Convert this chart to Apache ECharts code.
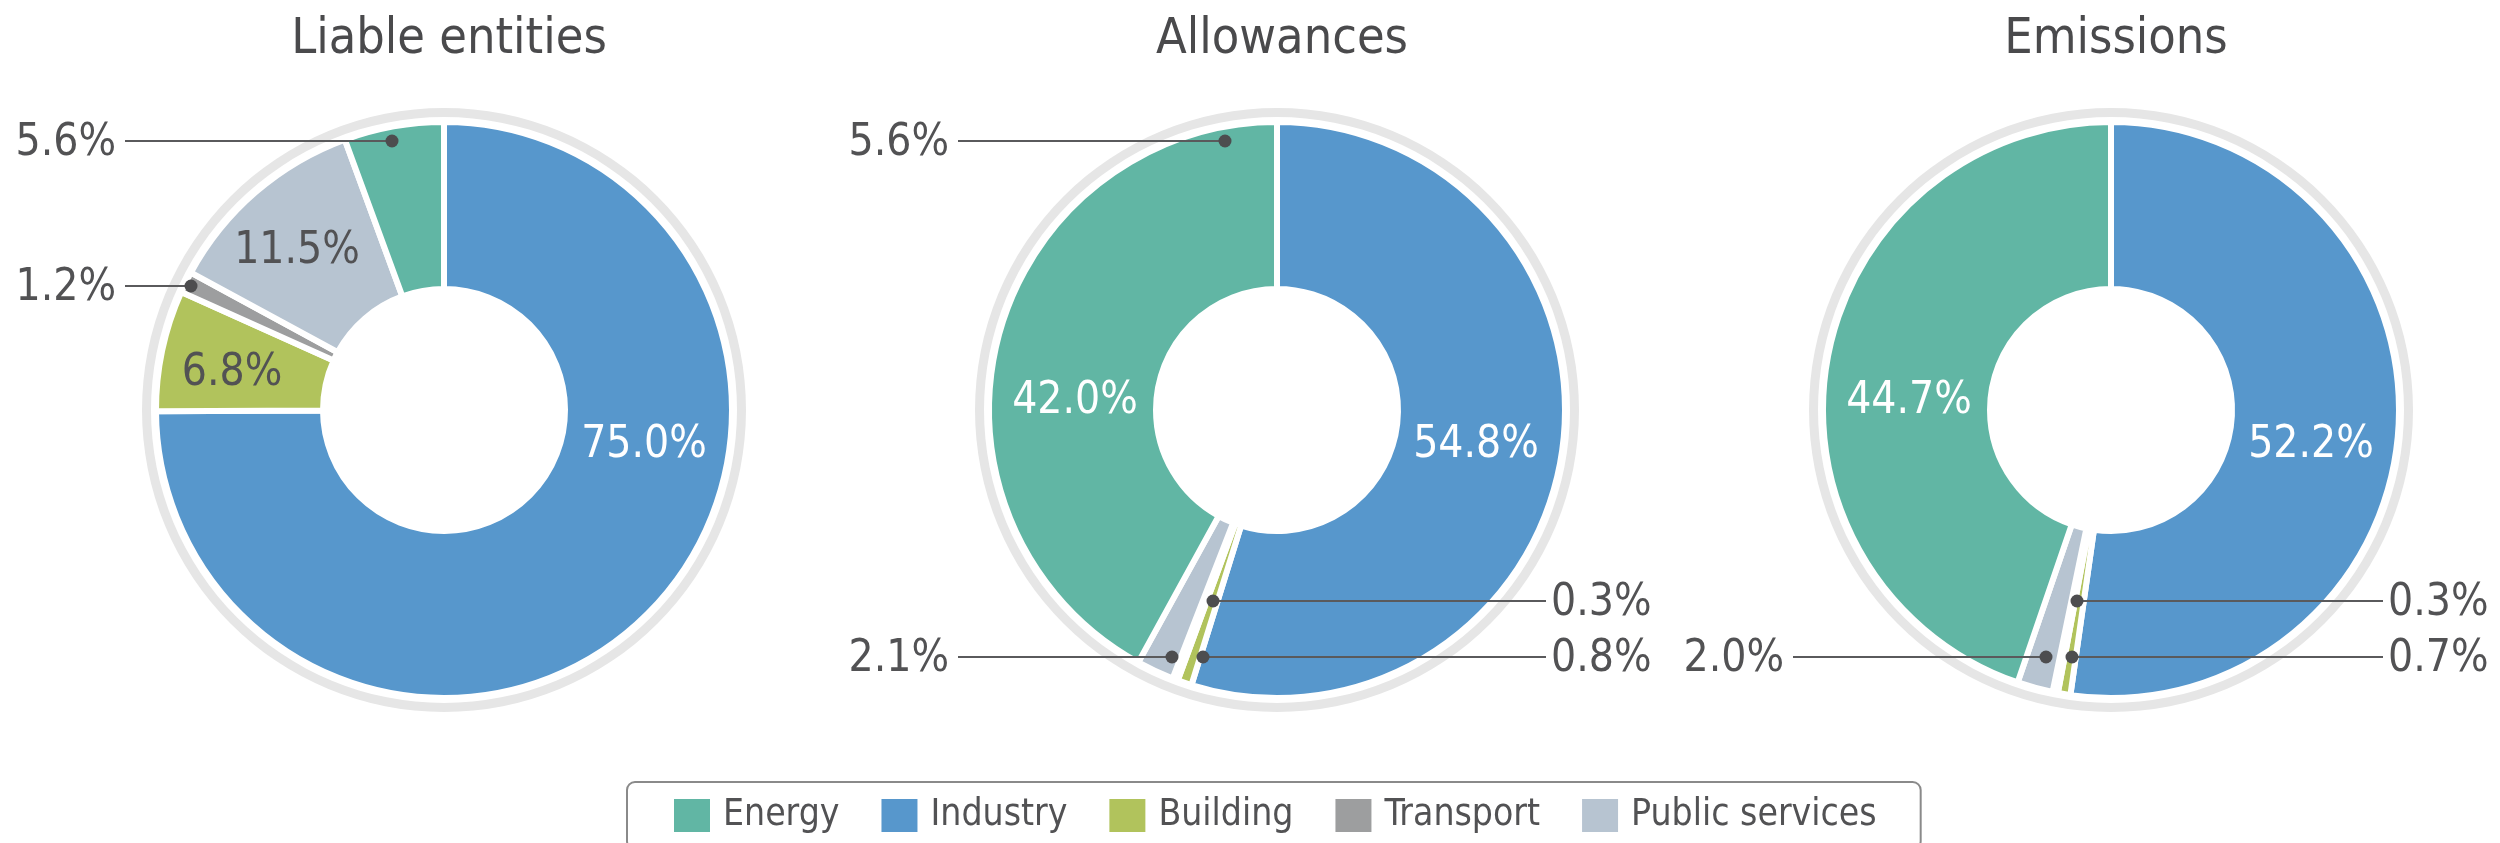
<!DOCTYPE html>
<html><head><meta charset="utf-8">
<script src="https://cdn.jsdelivr.net/npm/echarts@6/dist/echarts.min.js"></script>
<style>html,body{margin:0;padding:0;background:#fff}#c{width:2500px;height:843px}</style>
</head><body><div id="c"></div>
<script>
// ---------- data ----------
const categories = ['Energy', 'Industry', 'Building', 'Transport', 'Public services'];
const panelTitles = ['Liable entities', 'Allowances', 'Emissions'];
const liableEntities = [5.6, 75.0, 6.8, 1.2, 11.5];
const allowances = [42.0, 54.8, 0.8, 0.3, 2.1];
const emissions = [44.7, 52.2, 0.7, 0.3, 2.0];
const strayLabels = ['', '5.6%', ''];   // extra callout printed on the Allowances panel
const sliceOrder = ['Industry', 'Building', 'Transport', 'Public services', 'Energy']; // clockwise from 12 o'clock

// ---------- styles / layout ----------
const colors = { 'Energy': '#61b6a4', 'Industry': '#5797cc', 'Building': '#b1c35c', 'Transport': '#9d9e9f', 'Public services': '#b7c4d1' };
const FONT = "'DejaVu Sans Condensed','DejaVu Sans',sans-serif";
const TEXT = '#525254';
const LINE = '#5a5a5c';
const centers = [[444, 410], [1277, 410], [2111, 410]];
const R_MAIN = [121, 288], R_RING = [293, 302];
const layouts = [
  { 'Energy': { dot: [-52, -269], tx: -328 }, 'Transport': { dot: [-253, -124], tx: -328 },
    'Public services': { inside: [-147, -158], color: TEXT }, 'Building': { inside: [-212, -36], color: TEXT },
    'Industry': { inside: [200, 36], color: '#fff' } },
  { 'Energy': { inside: [-202, -8], color: '#fff' }, 'Industry': { inside: [199, 36], color: '#fff' },
    'Transport': { dot: [-64, 191], tx: 274 }, 'Building': { dot: [-74, 247], tx: 274 },
    'Public services': { dot: [-105, 247], tx: -328 } },
  { 'Energy': { inside: [-202, -8], color: '#fff' }, 'Industry': { inside: [200, 36], color: '#fff' },
    'Transport': { dot: [-34, 191], tx: 277 }, 'Building': { dot: [-39, 247], tx: 277 },
    'Public services': { dot: [-65, 247], tx: -327 } }
];
const strayLayout = { dot: [-52, -269], tx: -328 };
const panels = [liableEntities, allowances, emissions];

function lineGeom(i, L) {
  const [cx, cy] = centers[i];
  const dx = cx + L.dot[0], dy = cy + L.dot[1];
  const left = L.tx < 0;
  const tx = cx + L.tx;
  const lx = left ? tx + 9 : tx - 5;
  return { dx, dy, tx, lx, left };
}
function callout(g) {
  graphics.push({ type: 'line', z: 99, silent: true, shape: { x1: g.lx, y1: g.dy, x2: g.dx, y2: g.dy }, style: { stroke: LINE, lineWidth: 2 } });
  graphics.push({ type: 'circle', z: 100, silent: true, shape: { cx: g.dx, cy: g.dy, r: 6.5 }, style: { fill: '#4d4d4f' } });
}

const series = [];
const graphics = [];
panels.forEach((vals, i) => {
  series.push({
    type: 'pie', silent: true, center: centers[i], radius: R_RING, z: 1,
    data: [{ value: 1, name: '_ring', itemStyle: { color: '#e6e6e6' } }],
    label: { show: false }, labelLine: { show: false }
  });
  const data = sliceOrder.map(name => {
    const v = vals[categories.indexOf(name)];
    const L = layouts[i][name];
    const item = { name, value: v, itemStyle: { color: colors[name] } };
    if (L.inside) item.label = { color: L.color };
    return item;
  });
  series.push({
    type: 'pie', center: centers[i], radius: R_MAIN, startAngle: 90, clockwise: true, z: 2,
    avoidLabelOverlap: false, silent: true,
    itemStyle: { borderColor: '#fff', borderWidth: 6 },
    label: { show: true, position: 'outside', formatter: p => p.value.toFixed(1) + '%',
      fontFamily: FONT, fontSize: 44, color: TEXT },
    labelLine: { show: false },
    labelLayout: function (p) {
      const name = sliceOrder[p.dataIndex];
      const L = layouts[i][name];
      const [cx, cy] = centers[i];
      if (L.inside) return { x: cx + L.inside[0], y: cy + L.inside[1], align: 'center', verticalAlign: 'middle' };
      const g = lineGeom(i, L);
      return { x: g.tx, y: g.dy + 3, align: g.left ? 'right' : 'left', verticalAlign: 'middle' };
    },
    data
  });
  sliceOrder.forEach(name => {
    const L = layouts[i][name];
    if (L.dot) callout(lineGeom(i, L));
  });
  if (strayLabels[i]) {
    const g = lineGeom(i, strayLayout);
    callout(g);
    graphics.push({ type: 'text', z: 100, silent: true, x: g.tx, y: g.dy + 3,
      style: { text: strayLabels[i], align: 'right', verticalAlign: 'middle', font: '44px ' + FONT, fill: TEXT } });
  }
});

const chart = echarts.init(document.getElementById('c'), null, { renderer: 'canvas' });
chart.setOption({
  animation: false,
  backgroundColor: '#fff',
  title: panelTitles.map((t, i) => ({
    text: t, left: centers[i][0], top: 10, textAlign: 'center',
    textStyle: { fontFamily: FONT, fontSize: 50, fontWeight: 'normal', color: '#4a4a4c' }
  })),
  legend: {
    data: categories,
    left: 627, top: 782, icon: 'rect', itemWidth: 38, itemHeight: 35, itemGap: 40,
    selectedMode: false, padding: [15, 44, 15, 45], borderColor: '#8a8a8a', borderWidth: 2, borderRadius: 8,
    textStyle: { fontFamily: FONT, fontSize: 37, color: TEXT, padding: [0, 0, 0, 7] }
  },
  series,
  graphic: graphics
});
</script>
</body></html>
